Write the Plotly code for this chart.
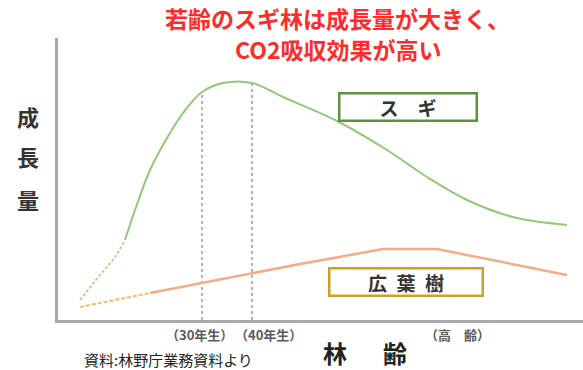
import plotly.graph_objects as go

# ---- data (forest age in years, growth amount in arbitrary units) ----
sugi_dash_age = [5.6, 9.6, 12.6, 14.6]
sugi_dash_val = [20, 45, 63, 80]
sugi_age = [14.6, 16.6, 19.6, 23, 26.2, 30, 34.2, 40, 46.2, 57, 67, 75, 83, 92.2, 103]
sugi_val = [80, 110, 150, 182, 207, 228, 237, 237, 223, 199, 170, 143, 120, 103, 95]

broad_dash_age = [5.6, 19.6]
broad_dash_val = [13, 27]
broad_age = [19.6, 30, 40, 49.6, 59.6, 66.2, 77, 103]
broad_val = [27, 37, 47, 56, 65, 71, 71, 45]

marker_ages = [30, 40]
tick_labels = ["（30年生）", "（40年生）", "（高　齢）"]
series_names = ["ス　ギ", "広\u2002葉\u2002樹"]
title_lines = ["若齢のスギ林は成長量が大きく、", "CO2吸収効果が高い"]
y_title_chars = ["成", "長", "量"]
x_title = "林\u3000\u2002齢"
source_text = "資料:林野庁業務資料より"

FONT = "Noto Sans CJK JP"
GREEN = "#93C77B"
ORANGE = "#F5AA88"

fig = go.Figure()

# vertical reference lines at 30 and 40 years
for a in marker_ages:
    v = sugi_val[sugi_age.index(a)]
    fig.add_trace(go.Scatter(x=[a, a], y=[0, v], mode="lines",
                             line=dict(color="#9A9A9A", width=1.5, dash="dot"),
                             hoverinfo="skip", showlegend=False))

fig.add_trace(go.Scatter(x=broad_dash_age, y=broad_dash_val, mode="lines",
                         line=dict(color="#E6C47A", width=2.2, dash="4px,2px"), showlegend=False))
fig.add_trace(go.Scatter(x=broad_age, y=broad_val, mode="lines",
                         line=dict(color=ORANGE, width=2.5), showlegend=False))
fig.add_trace(go.Scatter(x=sugi_dash_age, y=sugi_dash_val, mode="lines",
                         line=dict(color="#A9D58F", width=1.8, dash="3px,2px", shape="spline"),
                         showlegend=False))
fig.add_trace(go.Scatter(x=sugi_age, y=sugi_val, mode="lines",
                         line=dict(color=GREEN, width=2, shape="spline", smoothing=1.0),
                         showlegend=False))

L, R, T, B = 58, 0, 38, 50
W, H = 583, 370
PW, PH = W - L - R, H - T - B

def px(xp):
    return (xp - L) / PW

def py(yp):
    return (H - B - yp) / PH

ann = []
# title (two lines)
for line, (xx, yy) in zip(title_lines, [(337, 18), (338, 49)]):
    ann.append(dict(text=line, x=px(xx), y=py(yy), xref="paper", yref="paper",
                    showarrow=False, xanchor="center", yanchor="middle",
                    font=dict(family=FONT, size=23, color="#FF2B2B", weight="bold")))
# y axis title chars
for ch, yy in zip(y_title_chars, [116, 156, 199]):
    ann.append(dict(text=ch, x=px(28), y=py(yy), xref="paper", yref="paper",
                    showarrow=False, xanchor="center", yanchor="middle",
                    font=dict(family=FONT, size=22, color="#333333", weight="bold")))
# series label boxes
ann.append(dict(text=series_names[0], x=px(407.5), y=py(106.5), xref="paper", yref="paper",
                showarrow=False, xanchor="center", yanchor="middle",
                width=131, height=21, borderpad=2, borderwidth=2.5,
                bordercolor="#5E9140", bgcolor="white",
                font=dict(family=FONT, size=19, color="#333333", weight="bold")))
ann.append(dict(text=series_names[1], x=px(405.5), y=py(281.5), xref="paper", yref="paper",
                showarrow=False, xanchor="center", yanchor="middle",
                width=147, height=21, borderpad=2, borderwidth=2.5,
                bordercolor="#C9A227", bgcolor="white",
                font=dict(family=FONT, size=19, color="#333333", weight="bold")))
# tick labels
for t, xx in zip(tick_labels, [199, 268, 457]):
    ann.append(dict(text=t, x=px(xx), y=py(334), xref="paper", yref="paper",
                    showarrow=False, xanchor="center", yanchor="middle",
                    font=dict(family=FONT, size=13, color="#5A5A5A", weight="bold")))
# x axis title
ann.append(dict(text=x_title, x=px(365), y=py(352), xref="paper", yref="paper",
                showarrow=False, xanchor="center", yanchor="middle",
                font=dict(family=FONT, size=24, color="#222222", weight="bold")))
# source
ann.append(dict(text=source_text, x=px(168), y=py(359), xref="paper", yref="paper",
                showarrow=False, xanchor="center", yanchor="middle",
                font=dict(family=FONT, size=15, color="#222222")))

fig.update_layout(
    width=W, height=H,
    margin=dict(l=L, r=R, t=T, b=B),
    paper_bgcolor="white", plot_bgcolor="white",
    annotations=ann,
    showlegend=False,
)
fig.update_xaxes(range=[1.2, 106.2], showgrid=False, zeroline=False, showticklabels=False,
                 ticks="", showline=True, linecolor="#A8A8A8", linewidth=2.5)
fig.update_yaxes(range=[0, 282], showgrid=False, zeroline=False, showticklabels=False,
                 ticks="", showline=True, linecolor="#A8A8A8", linewidth=2.5)

fig.write_html("out.html")
